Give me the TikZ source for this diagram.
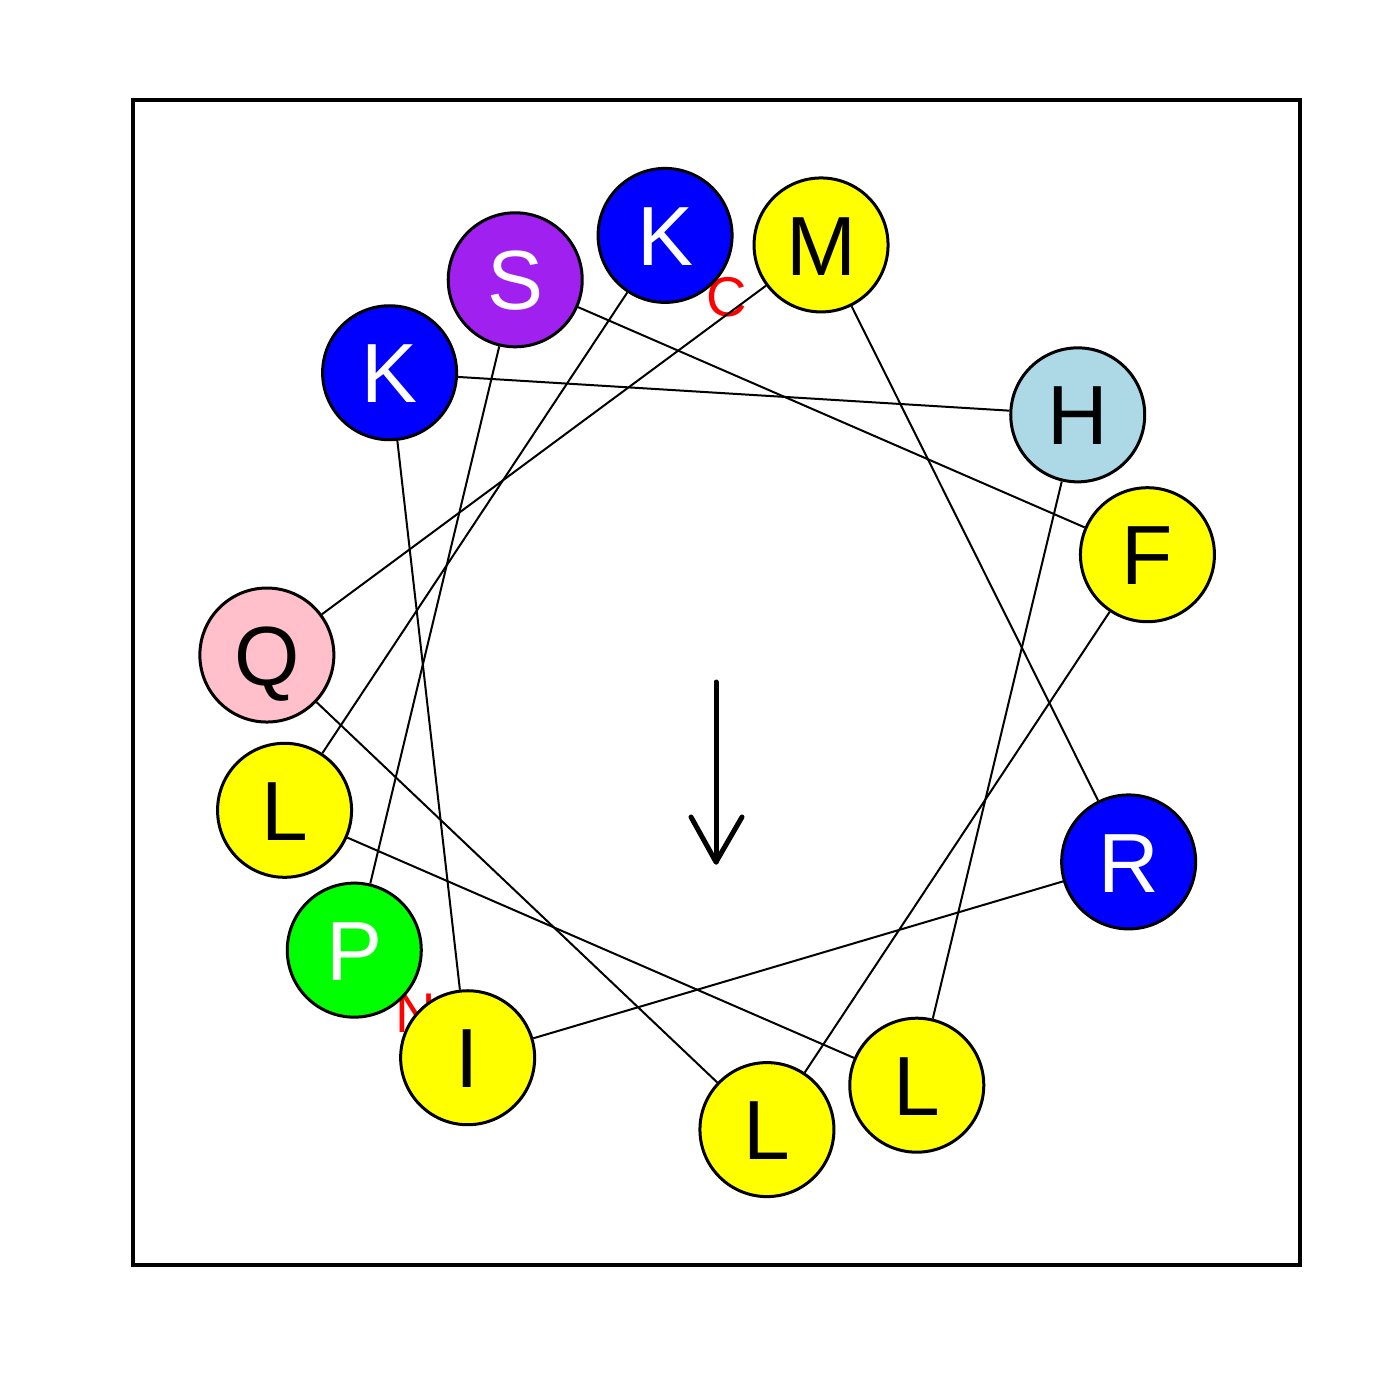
\documentclass[tikz,border=0pt]{standalone}
\usepackage{fontspec}
\setmainfont{Liberation Sans}
\definecolor{rpurple}{HTML}{A020F0}
\definecolor{rlightblue}{HTML}{ADD8E6}
\definecolor{rpink}{HTML}{FFC0CB}
\definecolor{rgreen}{HTML}{00FF00}
\definecolor{ryellow}{HTML}{FFFF00}
\definecolor{rblue}{HTML}{0000FF}
\definecolor{rred}{HTML}{FF0000}
\begin{document}
\begin{tikzpicture}[x=0.5pt,y=-0.5pt,
  res/.style={circle, draw=black, line width=1.5pt, minimum size=67pt, inner sep=0pt,
    font=\fontsize{42}{42}\selectfont, text height=30.1pt, text depth=0pt},
  conn/.style={line width=1pt, black},
  endlabel/.style={text=rred, inner sep=0pt, font=\fontsize{28}{28}\selectfont, text height=20pt, text depth=0pt},
  framebox/.style={line width=1.7pt, black},
  dipole/.style={line width=2.5pt, black, line cap=round, line join=round}]
\useasboundingbox (0,0) rectangle (1400,1400);
\draw[framebox] (133,100) rectangle (1300,1265);
% terminal labels
\node[endlabel] (nterm) at (416,1012) {N};
\node[endlabel] (cterm) at (727,297) {C};
% residues
\foreach \i/\a/\f/\t in {0/P/rgreen/white, 1/S/rpurple/white, 2/F/ryellow/black,
  3/L/ryellow/black, 4/Q/rpink/black, 5/M/ryellow/black, 6/R/rblue/white,
  7/I/ryellow/black, 8/K/rblue/white, 9/H/rlightblue/black, 10/L/ryellow/black,
  11/L/ryellow/black, 12/K/rblue/white} {
  \pgfmathsetmacro\ang{216.5-100*\i}
  \node[res, fill=\f, text=\t] (r\i) at ({716+450*cos(\ang)},{682.5-450*sin(\ang)}) {\a};
}
% backbone connectors
\foreach \i [evaluate=\i as \j using int(\i+1)] in {0,...,11}
  \draw[conn] (r\i) -- (r\j);
% hydrophobic moment arrow
\coordinate (mstart) at (716,682);
\coordinate (mtip) at (716,862);
\coordinate (mleft) at (691,817);
\coordinate (mright) at (742,817);
\draw[dipole] (mstart) -- (mtip);
\draw[dipole] (mleft) -- (mtip) -- (mright);
\end{tikzpicture}
\end{document}
